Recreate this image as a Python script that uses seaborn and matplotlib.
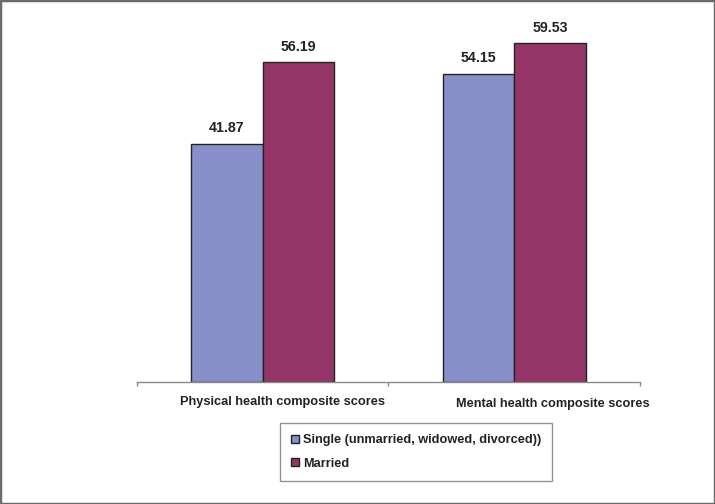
import matplotlib
matplotlib.use("Agg")
import matplotlib.pyplot as plt
import pandas as pd
import seaborn as sns
from matplotlib.patches import Rectangle

# chart data
categories = ["Physical health composite scores", "Mental health composite scores"]
groups = ["Single (unmarried, widowed, divorced))", "Married"]
single = [41.87, 54.15]
married = [56.19, 59.53]
colors = ["#8790c8", "#953567"]

sns.set_theme(style="white")
plt.rcParams["font.family"] = ["Liberation Sans", "DejaVu Sans"]

df = pd.DataFrame(
    {
        "Category": categories * 2,
        "Group": [groups[0]] * 2 + [groups[1]] * 2,
        "Score": single + married,
    }
)

fig = plt.figure(figsize=(7.15, 5.04), dpi=100)
ax = fig.add_axes([0.1916, 0.242, 0.7034, 0.712])

sns.barplot(
    data=df,
    x="Category",
    y="Score",
    hue="Group",
    palette=colors,
    saturation=1,
    edgecolor="#222222",
    linewidth=1.0,
    width=0.57,
    errorbar=None,
    ax=ax,
)

for cont in ax.containers:
    ax.bar_label(cont, fmt="%.2f", padding=6, fontsize=10.2,
                 fontweight="bold", color="#222222")

ax.set_ylim(0, 63)
ax.set_xlim(-0.5, 1.5)
ax.set_yticks([])
ax.set_ylabel("")
ax.set_xlabel("")
for s in ["top", "left", "right"]:
    ax.spines[s].set_visible(False)
ax.spines["bottom"].set_color("#8a8a8a")
ax.spines["bottom"].set_linewidth(1.0)

# tick marks at category boundaries
ax.set_xticks([-0.5, 0.5, 1.5])
ax.set_xticklabels(["", "", ""])
ax.tick_params(axis="x", direction="out", length=3, width=1, color="#8a8a8a", bottom=True)

# category labels sit a bit right of the group centres, like the original
label_shift = [14.5, 27.5]
for i, cat in enumerate(categories):
    ax.annotate(cat, xy=(i, 0), xycoords="data", xytext=(label_shift[i], -14.5 - i),
                textcoords="offset points", ha="center", va="center",
                fontsize=9.2, fontweight="bold", color="#222222")

ax.legend_.remove()
handles = [Rectangle((0, 0), 1, 1, facecolor=c, edgecolor="#222222", linewidth=1.0)
           for c in colors]
leg = fig.legend(
    handles, groups,
    loc="center", bbox_to_anchor=(0.582, 0.103),
    frameon=True, fancybox=False, edgecolor="#777777",
    handlelength=0.6, handleheight=0.6, handletextpad=0.3,
    labelspacing=0.9, borderpad=0.85,
    prop={"size": 9.2, "weight": "bold"},
)
leg.get_frame().set_linewidth(1.0)
for t in leg.get_texts():
    t.set_color("#222222")

# outer border
fig.patches.append(Rectangle((0, 0), 1, 1, transform=fig.transFigure, fill=False,
                             edgecolor="#6b6b6b", linewidth=2.5))

fig.savefig("out.png", dpi=100)
